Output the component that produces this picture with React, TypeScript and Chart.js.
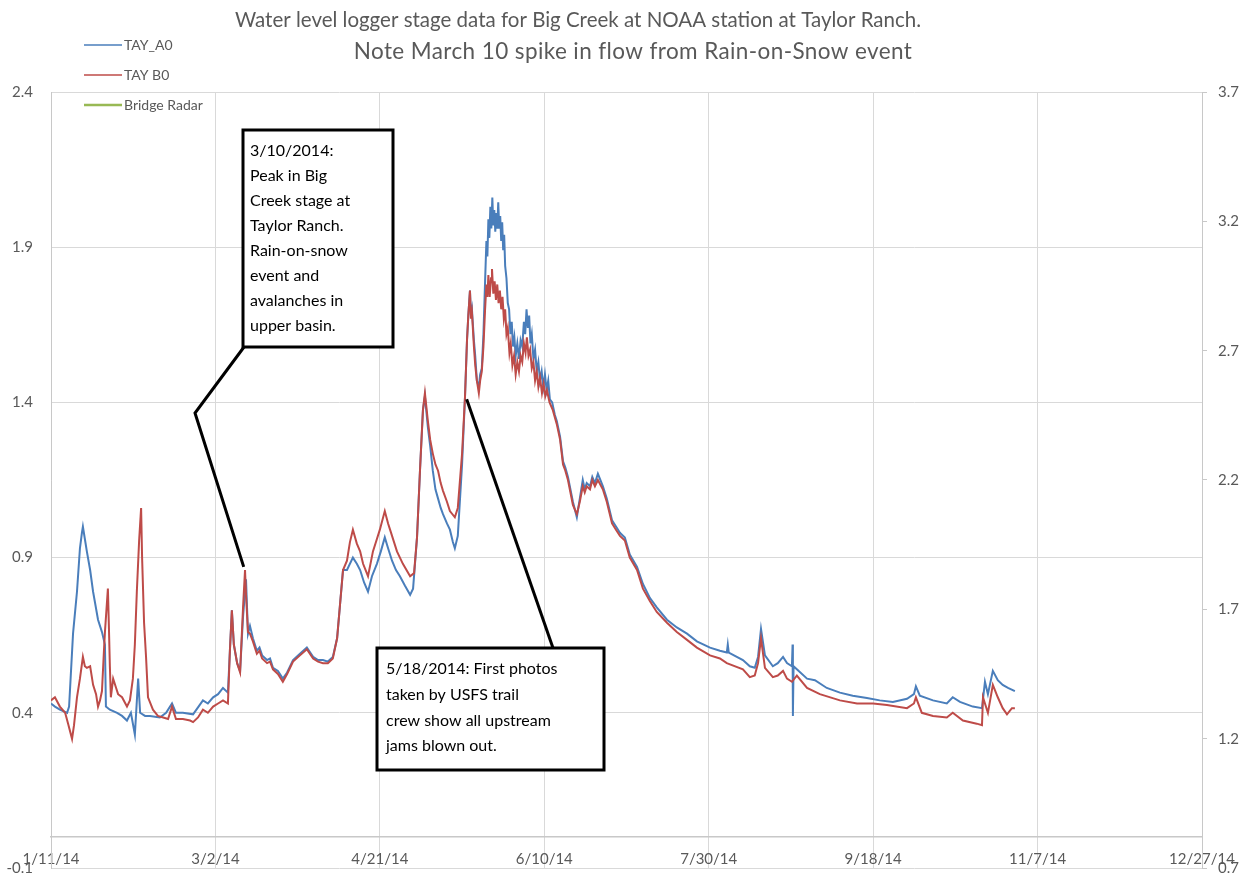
import React, { useEffect, useRef } from "react";
import { Chart, registerables } from "chart.js";

Chart.register(...registerables);

const titleLines = [
  "Water level logger stage data for Big Creek at NOAA station at Taylor Ranch.",
  "Note March 10 spike in flow from Rain-on-Snow event",
];

// x values are days after 1/11/14
const xTickDays = [0, 50, 100, 150, 200, 250, 300, 350];
const xTickLabels = ["1/11/14", "3/2/14", "4/21/14", "6/10/14", "7/30/14", "9/18/14", "11/7/14", "12/27/14"];
const leftTicks = [-0.1, 0.4, 0.9, 1.4, 1.9, 2.4];
const rightTicks = [0.7, 1.2, 1.7, 2.2, 2.7, 3.2, 3.7];

const seriesNames = ["TAY_A0", "TAY B0", "Bridge Radar"];
const seriesColors = ["#4A7EBB", "#BE4B48", "#98B954"];

// [day, stage]
const tayA0: [number, number][] = [
  [0, 0.43], [1.2, 0.42], [2.7, 0.41], [4.9, 0.40], [5.5, 0.42], [6.7, 0.655], [7.9, 0.79], [8.8, 0.93],
  [9.4, 0.98], [9.7, 1.0], [10.3, 0.96], [10.9, 0.92], [11.9, 0.86], [12.8, 0.79], [14.3, 0.7], [15.5, 0.66],
  [16.4, 0.62], [16.7, 0.42], [17.9, 0.41], [20.1, 0.4], [21.6, 0.39], [23.1, 0.375], [24.3, 0.4], [25.5, 0.33],
  [26.5, 0.51], [27.1, 0.4], [28.6, 0.39], [30.1, 0.39], [33.1, 0.385], [35, 0.4], [36.8, 0.43], [38, 0.4],
  [40.1, 0.4], [43.2, 0.395], [46.2, 0.44], [47.7, 0.43], [49.3, 0.45], [50.8, 0.46], [52.3, 0.48], [53.8, 0.465],
  [54.4, 0.6], [55, 0.73], [55.6, 0.62], [56.6, 0.56], [57.5, 0.535], [58.4, 0.71], [59.3, 0.83], [59.9, 0.655],
  [60.5, 0.68], [61.4, 0.64], [62.6, 0.6], [63.4, 0.61], [64.2, 0.585], [65.7, 0.57], [66.6, 0.575], [67.5, 0.545],
  [69, 0.535], [70.5, 0.51], [71.8, 0.53], [73.6, 0.57], [75.7, 0.59], [77.8, 0.61], [79.7, 0.58], [81.2, 0.57],
  [82.7, 0.57], [84.2, 0.565], [85.7, 0.58], [87, 0.64], [87.9, 0.75], [88.8, 0.86], [90, 0.86], [91.8, 0.9],
  [93, 0.88], [94, 0.86], [95.2, 0.82], [96.4, 0.79], [97.6, 0.84], [99.1, 0.88], [100.3, 0.92], [101.5, 0.965],
  [102.5, 0.93], [103.7, 0.89], [104.9, 0.86], [106.1, 0.84], [107.6, 0.81], [109.2, 0.78], [110.1, 0.8], [111.3, 0.965],
  [112.2, 1.18], [113.1, 1.375], [113.7, 1.42], [114.6, 1.32], [115.3, 1.26], [116.1, 1.18], [116.9, 1.12], [117.7, 1.09],
  [118.5, 1.06], [119.2, 1.04], [120.4, 1.01], [121.3, 0.99], [122.2, 0.95], [122.8, 0.93], [123.7, 0.97], [125, 1.2],
  [125.9, 1.42], [126.5, 1.6], [126.9, 1.68], [127.4, 1.76], [127.7, 1.68], [128, 1.7], [128.6, 1.6], [129, 1.55],
  [129.5, 1.47], [130.1, 1.45], [130.5, 1.49], [131, 1.51], [131.5, 1.62], [132, 1.79], [132.4, 1.92], [132.7, 1.87],
  [133, 1.99], [133.3, 1.93], [133.6, 2.03], [133.9, 1.96], [134.2, 2.06], [134.5, 1.97], [134.8, 2.02], [135.1, 1.95],
  [135.4, 2.01], [135.7, 1.96], [136, 2.045], [136.3, 1.96], [136.6, 2.0], [136.9, 1.92], [137.2, 1.98], [137.5, 1.89],
  [137.8, 1.94], [138.1, 1.84], [138.5, 1.8], [138.9, 1.72], [139.3, 1.7], [139.7, 1.62], [140.1, 1.66], [140.5, 1.58],
  [140.9, 1.61], [141.3, 1.55], [141.8, 1.59], [142.3, 1.54], [142.8, 1.6], [143.3, 1.58], [143.8, 1.66], [144.2, 1.62],
  [144.6, 1.7], [145, 1.64], [145.4, 1.68], [145.8, 1.59], [146.2, 1.62], [146.7, 1.54], [147.2, 1.57], [147.7, 1.5],
  [148.2, 1.53], [148.7, 1.47], [149.2, 1.5], [149.7, 1.45], [150.2, 1.49], [150.7, 1.44], [151.2, 1.47], [151.7, 1.41],
  [152.4, 1.4], [153.2, 1.36], [153.8, 1.34], [154.8, 1.29], [155.7, 1.21], [156.4, 1.19], [157.2, 1.16], [158.7, 1.08],
  [159.9, 1.03], [160.8, 1.09], [161.7, 1.15], [162.3, 1.12], [162.9, 1.14], [163.9, 1.13], [164.6, 1.16], [165.4, 1.14],
  [166.3, 1.17], [167.8, 1.13], [169, 1.09], [170.6, 1.02], [171.8, 1.0], [173, 0.98], [174.5, 0.965], [176, 0.91],
  [178.2, 0.87], [180, 0.815], [182.1, 0.77], [184.2, 0.74], [187.3, 0.7], [190.3, 0.675], [193.4, 0.655], [196.4, 0.63],
  [200.4, 0.61], [203.4, 0.6], [205.5, 0.594], [205.8, 0.62], [206.1, 0.594], [210.4, 0.57], [212.5, 0.55], [214, 0.545],
  [215, 0.58], [215.9, 0.67], [217.1, 0.585], [219.5, 0.55], [221, 0.56], [222.6, 0.58], [223.8, 0.56], [225.3, 0.55],
  [225.5, 0.62], [225.6, 0.39], [225.8, 0.55], [226.8, 0.54], [229.9, 0.51], [232.3, 0.505], [235.9, 0.48], [239.9, 0.465],
  [243.8, 0.455], [248.1, 0.448], [252, 0.44], [256, 0.435], [260.3, 0.445], [262.4, 0.46], [263, 0.485], [264.2, 0.455],
  [268.2, 0.44], [272.4, 0.43], [274.2, 0.45], [276.4, 0.435], [280.3, 0.42], [283.1, 0.415], [284, 0.5], [284.9, 0.46],
  [286.4, 0.535], [287.9, 0.505], [289.4, 0.49], [291, 0.48], [293.1, 0.47],
];

const tayB0: [number, number][] = [
  [0, 0.44], [1.2, 0.45], [2.7, 0.42], [4.3, 0.4], [5.2, 0.365], [6.4, 0.316], [7, 0.36], [7.9, 0.45],
  [8.8, 0.51], [9.7, 0.58], [10.3, 0.55], [10.9, 0.545], [11.9, 0.55], [12.8, 0.49], [13.7, 0.46], [14.3, 0.42],
  [14.9, 0.44], [15.5, 0.47], [16.1, 0.6], [16.4, 0.66], [17.3, 0.8], [17.6, 0.68], [17.9, 0.55], [18.2, 0.45],
  [18.9, 0.51], [19.8, 0.48], [20.4, 0.46], [21.6, 0.45], [23.1, 0.42], [24, 0.44], [24.9, 0.51], [25.5, 0.62],
  [26.1, 0.79], [26.8, 0.955], [27.4, 1.06], [27.7, 0.9], [28.3, 0.69], [28.9, 0.58], [29.5, 0.45], [31, 0.41],
  [32.5, 0.39], [34.1, 0.385], [35.6, 0.38], [36.8, 0.42], [38, 0.38], [40.1, 0.38], [42.3, 0.375], [43.2, 0.37],
  [44.7, 0.385], [46.2, 0.41], [47.7, 0.4], [49.3, 0.42], [50.8, 0.43], [52.3, 0.44], [53.8, 0.43], [54.4, 0.6],
  [55, 0.73], [55.6, 0.62], [56.6, 0.56], [57.5, 0.53], [58.4, 0.74], [59, 0.86], [59.3, 0.78], [59.9, 0.66],
  [60.5, 0.655], [61.4, 0.63], [62.6, 0.59], [63.4, 0.6], [64.2, 0.575], [65.7, 0.56], [66.6, 0.565], [67.5, 0.54],
  [69, 0.525], [70.5, 0.5], [71.8, 0.525], [73.6, 0.565], [75.7, 0.585], [77.8, 0.605], [79.7, 0.575], [81.2, 0.565],
  [82.7, 0.56], [84.2, 0.56], [85.7, 0.575], [87, 0.64], [87.9, 0.75], [88.8, 0.86], [90, 0.89], [90.9, 0.95],
  [91.8, 0.99], [93, 0.945], [94, 0.92], [94.9, 0.88], [96.4, 0.84], [97.9, 0.92], [99.1, 0.96], [100, 0.99],
  [101.5, 1.05], [102.5, 1.01], [103.1, 0.99], [105.2, 0.92], [107, 0.88], [109.2, 0.84], [110.4, 0.85], [111.3, 0.965],
  [112.2, 1.18], [113.1, 1.375], [113.7, 1.43], [114.6, 1.34], [115.3, 1.28], [116.1, 1.235], [116.9, 1.2], [117.7, 1.18],
  [118.5, 1.14], [119.2, 1.115], [120.4, 1.08], [121.3, 1.05], [122.8, 1.03], [123.7, 1.06], [125, 1.235], [125.9, 1.42],
  [126.5, 1.6], [126.9, 1.68], [127.4, 1.76], [127.7, 1.67], [128, 1.69], [128.6, 1.58], [129, 1.52], [129.5, 1.47],
  [130.1, 1.43], [130.5, 1.47], [131, 1.5], [131.5, 1.58], [132, 1.7], [132.4, 1.78], [132.7, 1.74], [133, 1.81],
  [133.4, 1.74], [133.8, 1.8], [134.1, 1.83], [134.5, 1.75], [134.9, 1.79], [135.3, 1.73], [135.7, 1.78], [136.1, 1.72],
  [136.5, 1.76], [136.9, 1.7], [137.3, 1.74], [137.7, 1.67], [138.1, 1.7], [138.5, 1.62], [138.9, 1.64], [139.4, 1.56],
  [139.8, 1.59], [140.3, 1.52], [140.8, 1.55], [141.3, 1.49], [141.8, 1.53], [142.3, 1.5], [142.8, 1.55], [143.3, 1.53],
  [143.8, 1.59], [144.3, 1.56], [144.7, 1.61], [145.2, 1.55], [145.7, 1.57], [146.2, 1.51], [146.7, 1.53], [147.2, 1.47],
  [147.7, 1.5], [148.2, 1.45], [148.7, 1.48], [149.3, 1.43], [149.8, 1.46], [150.3, 1.42], [150.8, 1.44], [151.6, 1.4],
  [152.6, 1.375], [153.8, 1.33], [154.8, 1.28], [155.7, 1.2], [156.4, 1.18], [157.2, 1.15], [158.7, 1.07], [159.9, 1.04],
  [160.8, 1.08], [161.7, 1.13], [162.3, 1.11], [162.9, 1.13], [163.9, 1.12], [164.6, 1.15], [165.4, 1.13], [166.3, 1.15],
  [167.8, 1.12], [169, 1.08], [170.6, 1.01], [171.8, 0.99], [173, 0.97], [174.5, 0.955], [176, 0.9], [178.2, 0.86],
  [180, 0.8], [182.1, 0.76], [184.2, 0.725], [187.3, 0.69], [190.3, 0.66], [193.4, 0.635], [196.4, 0.61], [200.4, 0.585],
  [203.4, 0.575], [205.5, 0.56], [210.4, 0.54], [212.5, 0.515], [214, 0.52], [215, 0.56], [215.9, 0.64], [217.1, 0.545],
  [219.5, 0.515], [221, 0.52], [222.6, 0.535], [223.8, 0.51], [225.3, 0.5], [226.8, 0.52], [229.9, 0.48], [233.8, 0.46],
  [239.9, 0.44], [245.1, 0.43], [250, 0.43], [254.2, 0.425], [260.3, 0.415], [262.4, 0.43], [263, 0.45], [264.8, 0.4],
  [268.2, 0.39], [272.4, 0.385], [274.2, 0.4], [277.3, 0.375], [281.5, 0.365], [283.1, 0.36], [283.4, 0.45], [284.9, 0.4],
  [286.4, 0.49], [287.9, 0.45], [289.4, 0.415], [290.7, 0.395], [292.2, 0.415], [293.1, 0.415],
];

const bridgeRadar: [number, number][] = [];

const note1Lines = ["3/10/2014:", "Peak in Big", "Creek stage at", "Taylor Ranch.", "Rain-on-snow", "event and", "avalanches in", "upper basin."];
const note1Target: [number, number] = [58.6, 0.87];
const note2Lines = ["5/18/2014: First photos", "taken by USFS trail", "crew show all upstream", "jams blown out."];
const note2Target: [number, number] = [126.4, 1.41];

const FONT = "Lato, 'Open Sans', sans-serif";
const TEXT_GRAY = "#595959";
const CANVAS_W = 1249;
const CANVAS_H = 895;

const overlayPlugin = {
  id: "overlay",
  afterDraw(chart: any) {
    const ctx = chart.ctx as CanvasRenderingContext2D;
    const xs = chart.scales.x;
    const ys = chart.scales.y;
    ctx.save();
    // Title
    ctx.fillStyle = TEXT_GRAY;
    ctx.textAlign = "center";
    ctx.textBaseline = "middle";
    ctx.font = `20.5px ${FONT}`;
    ctx.fillText(titleLines[0], 578, 20);
    ctx.font = `22.5px ${FONT}`;
    (ctx as any).letterSpacing = "0.4px";
    ctx.fillText(titleLines[1], 633, 52);
    (ctx as any).letterSpacing = "0px";

    // Legend
    const legendY = [45, 75, 105];
    const legendW = [1.3, 1.3, 2.5];
    seriesNames.forEach((name, i) => {
      ctx.strokeStyle = seriesColors[i];
      ctx.lineWidth = legendW[i];
      ctx.beginPath();
      ctx.moveTo(84, legendY[i]);
      ctx.lineTo(122, legendY[i]);
      ctx.stroke();
      ctx.fillStyle = TEXT_GRAY;
      ctx.font = `14px ${FONT}`;
      ctx.textAlign = "left";
      ctx.fillText(name, 124, legendY[i]);
    });

    // Annotation 1
    const t1x = xs.getPixelForValue(note1Target[0]);
    const t1y = ys.getPixelForValue(note1Target[1]);
    ctx.strokeStyle = "#000";
    ctx.lineWidth = 3;
    ctx.lineCap = "butt";
    ctx.lineJoin = "miter";
    ctx.beginPath();
    ctx.moveTo(244, 347);
    ctx.lineTo(195, 413);
    ctx.lineTo(t1x, t1y);
    ctx.stroke();
    ctx.fillStyle = "#fff";
    ctx.fillRect(243, 130, 150, 217);
    ctx.strokeRect(243, 130, 150, 217);
    ctx.fillStyle = "#000";
    ctx.font = `16px ${FONT}`;
    ctx.textAlign = "left";
    note1Lines.forEach((l, i) => ctx.fillText(l, 250, 151 + i * 25));

    // Annotation 2
    const t2x = xs.getPixelForValue(note2Target[0]);
    const t2y = ys.getPixelForValue(note2Target[1]);
    ctx.beginPath();
    ctx.moveTo(553, 648);
    ctx.lineTo(t2x, t2y);
    ctx.stroke();
    ctx.fillStyle = "#fff";
    ctx.fillRect(377, 648, 227, 122);
    ctx.strokeRect(377, 648, 227, 122);
    ctx.fillStyle = "#000";
    note2Lines.forEach((l, i) => ctx.fillText(l, 386, 669 + i * 25.7));
    ctx.restore();
  },
};

export default function App() {
  const ref = useRef<HTMLCanvasElement | null>(null);
  useEffect(() => {
    if (!ref.current) return;
    const toPts = (arr: [number, number][]) => arr.map(([x, y]) => ({ x, y }));
    const chart = new Chart(ref.current, {
      type: "line",
      data: {
        datasets: [
          {
            label: seriesNames[0],
            data: toPts(tayA0),
            borderColor: seriesColors[0],
            borderWidth: 2,
            pointRadius: 0,
            tension: 0,
            yAxisID: "y",
            order: 2,
          },
          {
            label: seriesNames[1],
            data: toPts(tayB0),
            borderColor: seriesColors[1],
            borderWidth: 2,
            pointRadius: 0,
            tension: 0,
            yAxisID: "y",
            order: 1,
          },
          {
            label: seriesNames[2],
            data: toPts(bridgeRadar),
            borderColor: seriesColors[2],
            borderWidth: 2.5,
            pointRadius: 0,
            yAxisID: "y2",
            order: 3,
          },
        ],
      },
      options: {
        responsive: false,
        animation: false,
        layout: { padding: { top: 92, bottom: 6, left: 0, right: 0 } },
        plugins: {
          legend: { display: false },
          title: { display: false },
          tooltip: { enabled: false },
        },
        scales: {
          x: {
            type: "linear",
            min: 0,
            max: 350,
            position: { y: 0 } as any,
            afterBuildTicks: (s: any) => {
              s.ticks = xTickDays.map((v) => ({ value: v }));
            },
            ticks: {
              callback: (v: any) => xTickLabels[xTickDays.indexOf(Number(v))],
              color: TEXT_GRAY,
              font: { family: FONT, size: 15 },
              padding: 13,
              maxRotation: 0,
              autoSkip: false,
            },
            grid: { color: "#d9d9d9", drawTicks: false, lineWidth: 1 },
            border: { color: "#c8c8c8", width: 1.5 },
          },
          y: {
            position: "left",
            min: -0.1,
            max: 2.4,
            afterBuildTicks: (s: any) => {
              s.ticks = leftTicks.map((v) => ({ value: v }));
            },
            afterFit: (s: any) => {
              s.width = 51;
            },
            ticks: {
              callback: (v: any) => Number(v).toFixed(1),
              color: TEXT_GRAY,
              font: { family: FONT, size: 15 },
              padding: 18,
            },
            grid: { color: "#d9d9d9", drawTicks: false },
            border: { color: "#c8c8c8" },
          },
          y2: {
            position: "right",
            min: 0.7,
            max: 3.7,
            afterBuildTicks: (s: any) => {
              s.ticks = rightTicks.map((v) => ({ value: v }));
            },
            afterFit: (s: any) => {
              s.width = 47;
            },
            ticks: {
              callback: (v: any) => Number(v).toFixed(1),
              color: TEXT_GRAY,
              font: { family: FONT, size: 15 },
              padding: 11,
            },
            grid: { drawOnChartArea: false, tickLength: 5, color: "#c8c8c8" },
            border: { color: "#c8c8c8" },
          },
        },
      },
      plugins: [overlayPlugin],
    } as any);
    return () => chart.destroy();
  }, []);
  return (
    <div style={{ position: "absolute", left: 0, top: 0, width: 1249, height: 873, overflow: "hidden", background: "#fff" }}>
      <canvas ref={ref} width={CANVAS_W} height={CANVAS_H} style={{ display: "block", width: CANVAS_W, height: CANVAS_H }} />
    </div>
  );
}
